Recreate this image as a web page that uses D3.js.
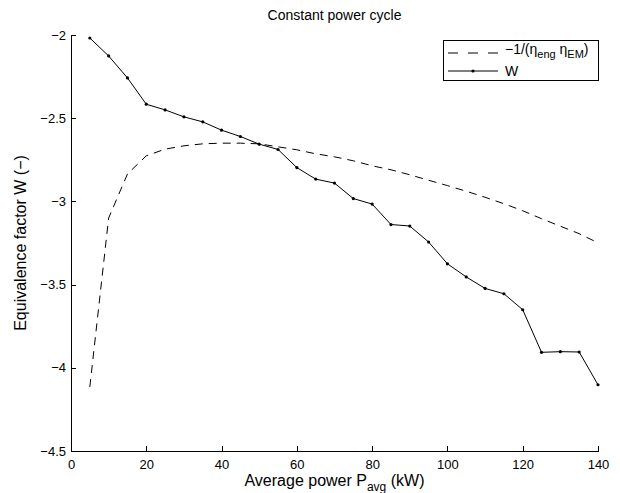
<!DOCTYPE html>
<html lang="en">
<head>
    <meta charset="UTF-8">
    <title>Constant power cycle</title>
    <script src="https://d3js.org/d3.v7.min.js"></script>
    <style>
        body { margin: 0; padding: 0; background: #fff; }
        svg { display: block; font-family: "Liberation Sans", Arial, Helvetica, sans-serif; }
        .axis path, .axis line { stroke: #000; shape-rendering: crispEdges; }
        .axis text { font-size: 13px; fill: #000; }
    </style>
</head>
<body>
<svg id="chart" width="620" height="493"></svg>

<script>
    // average power (kW)
    const power = [5, 10, 15, 20, 25, 30, 35, 40, 45, 50, 55, 60, 65, 70,
                   75, 80, 85, 90, 95, 100, 105, 110, 115, 120, 125, 130, 135, 140];

    // -1/(eta_eng * eta_EM)
    const invEff = [-4.115, -3.10, -2.835, -2.726, -2.686, -2.666, -2.654, -2.650, -2.650, -2.654,
                    -2.672, -2.690, -2.714, -2.732, -2.756, -2.786, -2.810, -2.840, -2.873, -2.905,
                    -2.939, -2.975, -3.014, -3.056, -3.104, -3.149, -3.194, -3.249];

    // equivalence factor W
    const W = [-2.018, -2.126, -2.258, -2.416, -2.450, -2.492, -2.522, -2.572, -2.610, -2.656,
               -2.688, -2.797, -2.866, -2.890, -2.983, -3.016, -3.139, -3.148, -3.244, -3.375,
               -3.454, -3.523, -3.555, -3.651, -3.907, -3.903, -3.905, -4.102];

    const xTicks = [0, 20, 40, 60, 80, 100, 120, 140];
    const yTicks = [-4.5, -4, -3.5, -3, -2.5, -2];

    const svg = d3.select("#chart");
    const margin = { top: 35, right: 22, bottom: 42, left: 71 },
        width = 620 - margin.left - margin.right,
        height = 493 - margin.top - margin.bottom;

    const x = d3.scaleLinear().domain([0, 140]).range([0, width]);
    const y = d3.scaleLinear().domain([-4.5, -2]).range([height, 0]);

    const g = svg.append("g").attr("transform", `translate(${margin.left},${margin.top})`);

    // axes (ticks pointing inward, no box)
    g.append("g")
        .attr("class", "axis")
        .attr("transform", `translate(0,${height})`)
        .call(d3.axisBottom(x).tickValues(xTicks).tickSizeInner(-5).tickSizeOuter(0).tickPadding(9));

    g.append("g")
        .attr("class", "axis")
        .call(d3.axisLeft(y).tickValues(yTicks).tickSizeInner(-5).tickSizeOuter(0).tickPadding(5)
            .tickFormat(d => String(d).replace("-", "\u2212")));

    const data1 = power.map((p, i) => [p, invEff[i]]);
    const data2 = power.map((p, i) => [p, W[i]]);

    const line = d3.line().x(d => x(d[0])).y(d => y(d[1]));

    g.append("path")
        .datum(data1)
        .attr("fill", "none")
        .attr("stroke", "#000")
        .attr("stroke-width", 1)
        .attr("stroke-dasharray", "8,6")
        .attr("d", line);

    g.append("path")
        .datum(data2)
        .attr("fill", "none")
        .attr("stroke", "#000")
        .attr("stroke-width", 1)
        .attr("d", line);

    g.selectAll(".dot")
        .data(data2)
        .enter().append("circle")
        .attr("class", "dot")
        .attr("cx", d => x(d[0]))
        .attr("cy", d => y(d[1]))
        .attr("r", 1.6)
        .attr("fill", "#000");

    // title
    svg.append("text")
        .attr("x", margin.left + width / 2)
        .attr("y", 20)
        .attr("text-anchor", "middle")
        .style("font-size", "14px")
        .text("Constant power cycle");

    // x label
    const xl = svg.append("text")
        .attr("x", margin.left + width / 2)
        .attr("y", 486)
        .attr("text-anchor", "middle")
        .style("font-size", "16px");
    xl.append("tspan").text("Average power P");
    xl.append("tspan").attr("dy", 5).style("font-size", "12px").text("avg");
    xl.append("tspan").attr("dy", -5).text(" (kW)");

    // y label
    svg.append("text")
        .attr("transform", `translate(26,${margin.top + height / 2}) rotate(-90)`)
        .attr("text-anchor", "middle")
        .style("font-size", "16px")
        .text("Equivalence factor W (\u2212)");

    // legend
    const lg = svg.append("g").attr("transform", "translate(443,40)");
    lg.append("rect")
        .attr("width", 155).attr("height", 40)
        .attr("fill", "#fff").attr("stroke", "#000").attr("stroke-width", 1)
        .attr("shape-rendering", "crispEdges");

    lg.append("line")
        .attr("x1", 5).attr("x2", 55).attr("y1", 13).attr("y2", 13)
        .attr("stroke", "#000").attr("stroke-dasharray", "10,10");
    const t1 = lg.append("text").attr("x", 62).attr("y", 14).style("font-size", "14px");
    t1.append("tspan").text("\u22121/(\u03b7");
    t1.append("tspan").attr("dy", 4).style("font-size", "11px").text("eng");
    t1.append("tspan").attr("dy", -4).text(" \u03b7");
    t1.append("tspan").attr("dy", 4).style("font-size", "11px").text("EM");
    t1.append("tspan").attr("dy", -4).text(")");

    lg.append("line")
        .attr("x1", 5).attr("x2", 55).attr("y1", 31).attr("y2", 31)
        .attr("stroke", "#000");
    lg.append("circle").attr("cx", 30).attr("cy", 31).attr("r", 1.6).attr("fill", "#000");
    lg.append("text").attr("x", 62).attr("y", 36).style("font-size", "14px").text("W");
</script>
</body>
</html>
